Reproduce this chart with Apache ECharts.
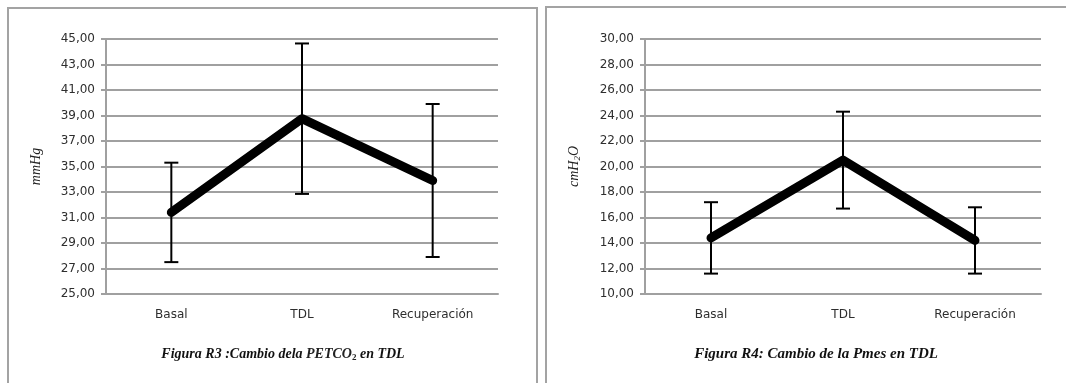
<!DOCTYPE html>
<html>
<head>
<meta charset="utf-8">
<script src="https://cdn.jsdelivr.net/npm/echarts@6/dist/echarts.min.js"></script>
<style>
  html, body { margin: 0; padding: 0; background: #ffffff; }
  #chart { width: 1066px; height: 383px; }
</style>
</head>
<body>
<div id="chart"></div>
<script>
// Phases of the protocol
const categories = ['Basal', 'TDL', 'Recuperación'];

// Figure R3: PETCO2 (mmHg), mean and standard deviation per phase
const petco2Mean = [31.4, 38.75, 33.9];
const petco2Sd = [3.9, 5.9, 6.0];

// Figure R4: Pmes (cmH2O), mean and standard deviation per phase
const pmesMean = [14.4, 20.5, 14.2];
const pmesSd = [2.8, 3.8, 2.6];

// Value axis ranges
const petco2Axis = { min: 25, max: 45, interval: 2 };
const pmesAxis = { min: 10, max: 30, interval: 2 };

const gridGray = '#a0a0a0';
const labelColor = '#2e2e2e';

// [categoryIndex, low, high] rows for the error bars
function errorRows(mean, sd) {
  return mean.map((m, i) => [i, m - sd[i], m + sd[i]]);
}

function renderErrorBar(params, api) {
  const idx = api.value(0);
  const lo = api.coord([idx, api.value(1)]);
  const hi = api.coord([idx, api.value(2)]);
  const half = 7;
  const style = { stroke: '#000000', lineWidth: 2 };
  return {
    type: 'group',
    children: [
      { type: 'line', shape: { x1: lo[0], y1: lo[1], x2: hi[0], y2: hi[1] }, style },
      { type: 'line', shape: { x1: hi[0] - half, y1: hi[1], x2: hi[0] + half, y2: hi[1] }, style },
      { type: 'line', shape: { x1: lo[0] - half, y1: lo[1], x2: lo[0] + half, y2: lo[1] }, style }
    ]
  };
}

function commaFixed(v) {
  return v.toFixed(2).replace('.', ',');
}

function valueAxis(gridIndex, range, name) {
  return {
    type: 'value',
    gridIndex,
    min: range.min,
    max: range.max,
    interval: range.interval,
    name,
    nameLocation: 'middle',
    nameGap: 63,
    nameRotate: 90,
    nameTextStyle: {
      fontFamily: 'Liberation Serif',
      fontStyle: 'italic',
      fontSize: 14,
      color: '#222222'
    },
    axisLine: { show: true, lineStyle: { color: gridGray, width: 2 } },
    axisTick: { show: true, inside: false, length: 5, lineStyle: { color: gridGray, width: 2 } },
    axisLabel: {
      margin: 11,
      fontFamily: 'DejaVu Sans',
      fontSize: 12,
      color: labelColor,
      formatter: commaFixed
    },
    splitLine: { show: true, lineStyle: { color: gridGray, width: 2 } }
  };
}

function categoryAxis(gridIndex) {
  return {
    type: 'category',
    gridIndex,
    data: categories,
    boundaryGap: true,
    axisLine: { show: true, lineStyle: { color: gridGray, width: 2 } },
    axisTick: { show: false },
    axisLabel: {
      margin: 15,
      fontFamily: 'DejaVu Sans',
      fontSize: 12,
      color: labelColor
    },
    splitLine: { show: false }
  };
}

function meanLine(idx, data) {
  return {
    type: 'line',
    xAxisIndex: idx,
    yAxisIndex: idx,
    data,
    symbol: 'none',
    z: 3,
    lineStyle: { color: '#000000', width: 9, cap: 'round', join: 'round' }
  };
}

function errorSeries(idx, rows) {
  return {
    type: 'custom',
    xAxisIndex: idx,
    yAxisIndex: idx,
    data: rows,
    renderItem: renderErrorBar,
    z: 2,
    encode: { x: 0, y: [1, 2] }
  };
}

const captionStyle = {
  fontFamily: 'Liberation Serif',
  fontSize: 14,
  fontStyle: 'italic',
  fontWeight: 'bold',
  color: '#111111'
};

const chart = echarts.init(document.getElementById('chart'), null, { renderer: 'canvas' });

chart.setOption({
  animation: false,
  backgroundColor: '#ffffff',
  grid: [
    { left: 106, top: 39, width: 392, height: 255 },
    { left: 645, top: 39, width: 396, height: 255 }
  ],
  xAxis: [categoryAxis(0), categoryAxis(1)],
  yAxis: [
    valueAxis(0, petco2Axis, 'mmHg'),
    valueAxis(1, pmesAxis, '{n|cmH}{s|2}{n|O}')
  ],
  title: [
    {
      text: '{b|Figura R3 :Cambio dela }{n|PETCO}{s|2}{b| en TDL}',
      left: 278,
      top: 342,
      textAlign: 'center',
      textStyle: {
        rich: {
          b: Object.assign({}, captionStyle),
          n: { fontFamily: 'Liberation Serif', fontStyle: 'italic', fontSize: 14, color: '#222222' },
          s: { fontFamily: 'Liberation Serif', fontSize: 9, color: '#222222', padding: [6, 0, 0, 0] }
        }
      }
    },
    {
      text: 'Figura R4: Cambio de la Pmes en TDL',
      left: 811,
      top: 342,
      textAlign: 'center',
      textStyle: Object.assign({}, captionStyle, { fontSize: 15 })
    }
  ],
  graphic: [
    // panel frames
    {
      type: 'rect',
      shape: { x: 8, y: 8, width: 529, height: 400 },
      style: { fill: 'none', stroke: '#a3a3a3', lineWidth: 2 },
      silent: true
    },
    {
      type: 'rect',
      shape: { x: 546, y: 7, width: 540, height: 400 },
      style: { fill: 'none', stroke: '#a3a3a3', lineWidth: 2 },
      silent: true
    }
  ],
  series: [
    errorSeries(0, errorRows(petco2Mean, petco2Sd)),
    meanLine(0, petco2Mean),
    errorSeries(1, errorRows(pmesMean, pmesSd)),
    meanLine(1, pmesMean)
  ]
});

// rich styles for the subscripted axis name
chart.setOption({
  yAxis: [
    {},
    {
      nameTextStyle: {
        rich: {
          n: { fontFamily: 'Liberation Serif', fontStyle: 'italic', fontSize: 14, color: '#222222' },
          s: { fontFamily: 'Liberation Serif', fontStyle: 'italic', fontSize: 9, color: '#222222', padding: [6, 0, 0, 0] }
        }
      }
    }
  ]
});
</script>
</body>
</html>
